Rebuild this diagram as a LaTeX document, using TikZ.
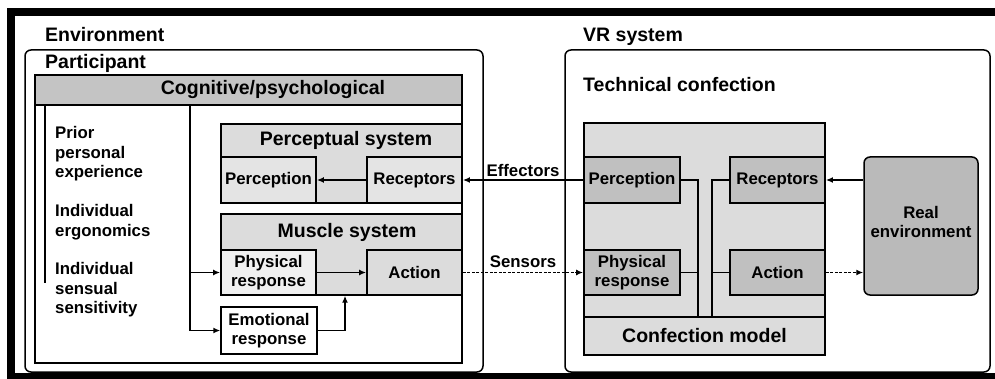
\documentclass[tikz,border=0pt]{standalone}
\usepackage{fontspec}
\setmainfont{Liberation Sans}
\usetikzlibrary{arrows.meta}
\definecolor{gA}{HTML}{C4C4C4}
\definecolor{gB}{HTML}{DCDCDC}
\definecolor{gC}{HTML}{E4E4E4}
\definecolor{gD}{HTML}{F0F0F0}
\definecolor{gE}{HTML}{C0C0C0}
\definecolor{gF}{HTML}{BABABA}
\newcommand\bigtxt{\fontsize{19.5}{22}\selectfont\bfseries}
\newcommand\smalltxt{\fontsize{16.8}{19.5}\selectfont\bfseries}
\begin{document}
\begin{tikzpicture}[x=1pt,y=-1pt,
 lab/.style={inner sep=0pt, font=\smalltxt, align=center},
 ttl/.style={inner sep=0pt, font=\bigtxt},
 frame/.style={draw, line width=1.5pt, rounded corners=6pt, inner sep=0pt},
 plain/.style={draw, line width=1.4pt, inner sep=0pt, align=center, font=\smalltxt},
 sub/.style={draw, line width=1.8pt, inner sep=0pt, align=center, font=\smalltxt},
 arr/.style={line width=1.4pt, -{Latex[length=7pt,width=6pt]}},
 dsh/.style={dash pattern=on 3pt off 1.5pt},
 wire/.style={line width=1.4pt}]
\useasboundingbox (0,0) rectangle (995,379);
% outer frames
\node[frame, minimum width=458, minimum height=322] (part) at (254,211) {};
\node[frame, minimum width=425, minimum height=322] (vr) at (777.5,211) {};
\node[ttl, anchor=west] (envt) at (45,35) {Environment};
\node[ttl, anchor=west] (partt) at (45,63) {Participant};
\node[ttl, anchor=west] (vrt) at (583,37) {VR system};
\node[ttl, anchor=west] (techt) at (583,85) {Technical confection};
% cognitive
\node[plain, minimum width=427, minimum height=288] (cog) at (248.5,219) {};
\node[plain, fill=gA, minimum width=427, minimum height=30] (coghead) at (248.5,90) {};
\node[ttl] (cogt) at (273,90) {Cognitive/psychological};
\coordinate (lt) at (45,106);
\coordinate (lb) at (45,283);
\draw[wire] (lt) -- (lb);
\node[lab, anchor=west, align=left] (prior) at (55,154) {Prior\\personal\\experience};
\node[lab, anchor=west, align=left] (ergo) at (55,222) {Individual\\ergonomics};
\node[lab, anchor=west, align=left] (sens) at (55,290) {Individual\\sensual\\sensitivity};
% perceptual system
\node[plain, fill=gB, minimum width=241, minimum height=79] (percsys) at (341.5,163.5) {};
\node[ttl] (percsyst) at (346,140) {Perceptual system};
\node[sub, fill=gC, minimum width=95, minimum height=46] (pperc) at (268.5,180) {Perception};
\node[sub, fill=gC, minimum width=95, minimum height=46] (prec) at (414.5,180) {Receptors};
% muscle system
\node[plain, fill=gB, minimum width=241, minimum height=81] (mus) at (341.5,254.5) {};
\node[ttl] (must) at (347,232) {Muscle system};
\node[sub, fill=gD, minimum width=95, minimum height=45] (pphys) at (268.5,272.5) {Physical\\response};
\node[sub, fill=gB, minimum width=95, minimum height=45] (pact) at (414.5,272.5) {Action};
\node[plain, fill=white, minimum width=96, minimum height=47] (pemo) at (269,330.5) {Emotional\\response};
% cognitive connectors
\coordinate (cv) at (190,105);
\draw[arr] (cv) |- (pemo.west);
\draw[arr] (cv |- pphys.west) -- (pphys.west);
\draw[arr] (prec.west) -- (pperc.east);
\draw[arr] (pphys.east) -- (pact.west);
\draw[arr] (pemo.east) -| ([xshift=3.5pt]mus.south);
% VR technical confection
\node[plain, fill=gB, minimum width=241, minimum height=232] (tech) at (704.5,239) {};
\node[plain, fill=gB, minimum width=241, minimum height=38, font=\bigtxt] (conf) at (704.5,336) {Confection model};
\node[sub, fill=gE, minimum width=96, minimum height=46] (vperc) at (632,180) {Perception};
\node[sub, fill=gE, minimum width=95, minimum height=46] (vrec) at (777.5,180) {Receptors};
\node[sub, fill=gE, minimum width=96, minimum height=45] (vphys) at (632,272.5) {Physical\\response};
\node[sub, fill=gE, minimum width=95, minimum height=45] (vact) at (777.5,272.5) {Action};
\coordinate (j1) at (698,317);
\coordinate (j2) at (712,317);
\draw[wire] (vperc.east) -| (j1);
\draw[wire] (vrec.west) -| (j2);
\draw[wire] (vphys.east) -- (vphys.east -| j1);
\draw[wire] (vact.west) -- (vact.west -| j2);
% real environment
\node[frame, fill=gF, minimum width=114, minimum height=138, align=center, font=\smalltxt, text depth=8pt] (real) at (921,226) {Real\\environment};
% links between systems
\draw[arr] (vperc.west) -- (prec.east) node[lab, midway, above=2.5pt] (efft) {Effectors};
\draw[arr, dsh] (pact.east) -- (vphys.west) node[lab, midway, above=4pt] (senst) {Sensors};
\draw[arr] (vrec.east -| real.west) -- (vrec.east);
\draw[arr, dsh] (vact.east) -- (vact.east -| real.west);
% black border bands
\fill (7,8) rectangle (995,16.5);
\fill (7,8) rectangle (15,379);
\fill (7,372.5) rectangle (995,379);
\end{tikzpicture}
\end{document}
